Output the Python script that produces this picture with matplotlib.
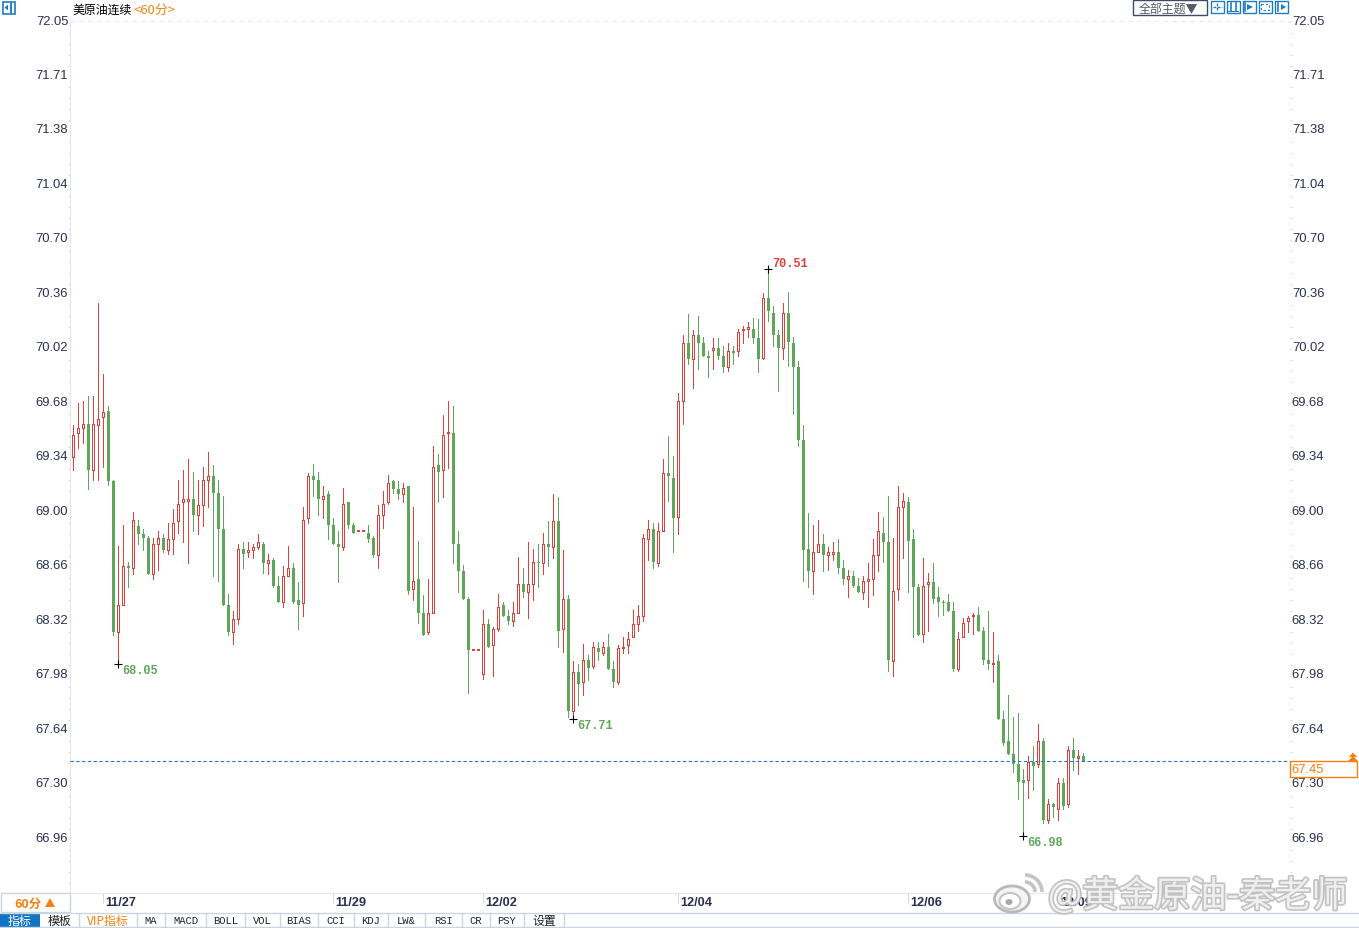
import matplotlib
matplotlib.use("Agg")
import matplotlib.pyplot as plt
import matplotlib.patheffects as pe
from matplotlib.patches import Rectangle, Ellipse, Arc, Polygon
from matplotlib.transforms import ScaledTranslation
import numpy as np

plt.rcParams['font.family'] = ['Liberation Sans', 'Noto Sans CJK SC', 'DejaVu Sans']
CJK = ['Noto Sans CJK SC', 'DejaVu Sans']

W, H = 1359, 929

# hourly candles
opens = [69.34,69.49,69.52,69.55,69.26,69.54,69.59,69.63,69.19,68.25,
         68.42,68.66,68.65,68.91,68.86,68.84,68.61,68.80,68.84,68.76,
         68.83,68.94,69.06,69.07,69.08,68.98,69.04,69.20,69.22,69.12,
         68.89,68.42,68.25,68.33,68.77,68.75,68.76,68.78,68.80,68.68,
         68.70,68.54,68.44,68.60,68.65,68.45,68.43,68.96,69.22,69.20,
         69.08,69.11,68.92,68.80,68.78,69.06,68.92,68.88,68.88,68.87,
         68.84,68.73,68.98,69.06,69.19,69.14,69.11,69.16,68.52,68.58,
         68.37,68.25,68.37,69.29,69.26,69.49,69.49,68.80,68.63,68.46,
         68.14,68.14,67.99,68.30,68.17,68.27,68.42,68.35,68.32,68.37,
         68.55,68.50,68.55,68.69,68.68,68.80,68.78,68.94,68.27,68.46,
         67.76,68.00,67.94,68.08,68.04,68.15,68.12,68.16,68.02,67.94,
         68.15,68.17,68.22,68.30,68.35,68.83,68.89,68.68,68.88,69.24,
         69.21,68.97,69.69,70.05,69.95,70.10,70.05,69.97,70.01,70.02,
         69.97,69.90,70.00,70.00,70.13,70.14,70.14,70.08,69.96,70.33,
         70.24,70.10,70.02,70.24,70.05,69.90,69.45,68.77,68.63,68.75,
         68.80,68.73,68.74,68.75,68.65,68.58,68.60,68.54,68.50,68.57,
         68.58,68.73,68.87,68.81,68.07,68.52,69.03,69.06,68.83,68.53,
         68.24,68.55,68.56,68.47,68.44,68.44,68.38,68.02,68.22,68.32,
         68.35,68.36,68.26,68.08,68.05,68.07,67.71,67.57,67.49,67.43,
         67.33,67.33,67.44,67.43,67.57,67.08,67.18,67.15,67.31,67.18,
         67.52,67.47,67.48]
closes = [69.48,69.52,69.55,69.26,69.55,69.58,69.62,69.19,68.25,68.42,
          68.66,68.65,68.95,68.86,68.84,68.61,68.80,68.84,68.76,68.83,
          68.93,69.05,69.08,69.08,68.98,69.04,69.20,69.22,69.12,68.89,
          68.42,68.25,68.33,68.77,68.74,68.76,68.78,68.81,68.68,68.70,
          68.54,68.44,68.60,68.65,68.44,68.42,68.95,69.22,69.20,69.08,
          69.10,68.92,68.80,68.78,69.05,68.92,68.87,68.88,68.88,68.83,
          68.73,68.98,69.05,69.18,69.14,69.11,69.15,68.51,68.57,68.37,
          68.23,68.37,69.28,69.25,69.48,69.49,68.80,68.63,68.46,68.14,
          68.14,68.14,68.30,68.16,68.27,68.41,68.35,68.32,68.37,68.55,
          68.50,68.55,68.69,68.68,68.80,68.78,68.94,68.26,68.46,67.76,
          68.00,67.93,68.08,68.03,68.16,68.13,68.16,68.02,67.94,68.15,
          68.16,68.21,68.30,68.35,68.84,68.89,68.69,68.88,69.24,69.22,
          68.96,69.69,70.05,69.95,70.10,70.05,69.97,69.96,70.02,69.97,
          69.90,70.00,69.99,70.12,70.14,70.15,70.08,69.95,70.33,70.25,
          70.10,70.02,70.24,70.06,69.90,69.45,68.76,68.63,68.75,68.80,
          68.73,68.75,68.75,68.65,68.58,68.60,68.54,68.50,68.57,68.58,
          68.73,68.88,68.81,68.08,68.51,69.03,69.07,68.82,68.53,68.23,
          68.54,68.56,68.46,68.44,68.43,68.38,68.02,68.21,68.31,68.34,
          68.36,68.26,68.08,68.05,68.06,67.71,67.56,67.49,67.43,67.32,
          67.31,67.44,67.42,67.57,67.08,67.18,67.16,67.31,67.17,67.52,
          67.47,67.48,67.45]
highs = [69.54,69.68,69.69,69.72,69.72,70.30,69.86,69.66,69.20,68.79,
         68.92,68.69,69.00,68.95,68.89,68.85,68.84,68.88,68.86,68.93,
         69.02,69.20,69.26,69.33,69.25,69.20,69.28,69.37,69.29,69.20,
         69.10,68.49,68.38,68.80,68.81,68.81,68.80,68.86,68.81,68.74,
         68.71,68.60,68.66,68.79,68.68,68.56,69.03,69.24,69.30,69.25,
         69.16,69.13,68.96,68.88,69.15,69.06,68.93,68.88,68.88,68.92,
         68.85,69.04,69.13,69.23,69.20,69.19,69.18,69.16,69.03,68.82,
         68.48,68.58,69.41,69.36,69.60,69.69,69.66,68.88,68.67,68.47,
         68.14,68.14,68.39,68.33,68.28,68.49,68.44,68.39,68.44,68.72,
         68.65,68.81,68.77,68.80,68.87,68.94,69.11,69.09,68.76,68.48,
         68.07,68.05,68.18,68.11,68.19,68.19,68.19,68.24,68.07,68.17,
         68.22,68.25,68.39,68.42,68.86,68.95,68.93,68.93,69.33,69.47,
         69.35,69.74,70.10,70.23,70.13,70.22,70.09,70.00,70.08,70.08,
         70.03,70.05,70.03,70.14,70.16,70.18,70.21,70.20,70.36,70.51,
         70.28,70.13,70.30,70.37,70.09,69.94,69.54,68.99,68.92,68.95,
         68.86,68.78,68.81,68.83,68.70,68.64,68.63,68.59,68.60,68.68,
         68.83,69.00,68.97,69.10,68.84,69.16,69.12,69.09,68.89,68.55,
         68.71,68.62,68.68,68.53,68.45,68.49,68.44,68.25,68.34,68.35,
         68.37,68.41,68.28,68.38,68.25,68.11,67.76,67.86,67.72,67.75,
         67.40,67.48,67.54,67.68,67.59,67.21,67.19,67.34,67.34,67.54,
         67.59,67.52,67.50]
lows = [69.26,69.40,69.43,69.14,69.20,69.20,69.28,69.17,68.23,68.05,
        68.42,68.53,68.61,68.80,68.76,68.61,68.58,68.64,68.75,68.74,
        68.74,68.87,68.81,68.68,68.88,68.86,68.91,69.03,68.60,68.57,
        68.42,68.23,68.18,68.30,68.65,68.72,68.71,68.77,68.62,68.61,
        68.53,68.44,68.41,68.60,68.43,68.27,68.35,68.93,69.10,68.98,
        68.96,68.83,68.80,68.56,68.76,68.90,68.87,68.88,68.88,68.81,
        68.72,68.65,68.90,69.05,69.12,69.08,69.06,68.49,68.45,68.31,
        68.23,68.24,68.37,69.06,69.09,69.27,68.68,68.50,68.46,67.87,
        68.14,68.14,67.96,68.16,67.98,68.26,68.35,68.30,68.29,68.37,
        68.47,68.34,68.45,68.53,68.61,68.66,68.71,68.16,68.13,67.72,
        67.71,67.80,67.86,67.95,68.03,68.08,68.11,68.02,67.91,67.93,
        68.12,68.12,68.22,68.26,68.32,68.70,68.65,68.66,68.88,69.07,
        68.75,68.86,69.55,69.92,69.77,69.89,69.97,69.84,69.89,69.95,
        69.87,69.88,69.92,69.97,70.05,70.09,70.05,69.87,69.95,70.19,
        70.03,69.75,69.95,69.91,69.61,69.41,68.57,68.53,68.49,68.75,
        68.63,68.64,68.70,68.62,68.55,68.47,68.53,68.50,68.46,68.41,
        68.48,68.63,68.69,68.01,67.98,68.45,68.71,68.50,68.22,68.23,
        68.19,68.26,68.43,68.35,68.36,68.38,68.01,68.01,68.22,68.25,
        68.24,68.26,68.05,68.02,67.94,67.71,67.55,67.49,67.38,67.21,
        66.98,67.22,67.27,67.41,67.06,67.06,67.10,67.08,67.15,67.16,
        67.39,67.37,67.45]

price_ticks = ["72.05", "71.71", "71.38", "71.04", "70.70", "70.36", "70.02", "69.68",
               "69.34", "69.00", "68.66", "68.32", "67.98", "67.64", "67.30", "66.96"]
date_idx = [6, 52, 82, 121, 167, 197]
date_labels = ["11/27", "11/29", "12/02", "12/04", "12/06", "12/09"]
extreme_idx = [9, 100, 139, 190]
extreme_val = [68.05, 67.71, 70.51, 66.98]
last_price = 67.45

tabs = ["指标", "模板", "VIP指标", "MA", "MACD", "BOLL", "VOL", "BIAS", "CCI", "KDJ",
        "LW&", "RSI", "CR", "PSY", "设置"]
tab_edges = [0, 40, 79, 137, 165, 206, 245, 280, 318, 354, 388, 425, 462, 490, 524, 564]

RED = "#e0403c"
GREEN = "#5fa55a"
NAVY = "#2b3050"
ORANGE = "#f5820f"
ICON = "#1f7cc4"
LINE = "#cbd5de"

opens = np.array(opens)
closes = np.array(closes)
highs = np.array(highs)
lows = np.array(lows)
x = np.arange(len(opens))
up = closes >= opens
flat = closes == opens

fig = plt.figure(figsize=(W / 100, H / 100), dpi=100, facecolor="white")

# price panel, pixel box 70..1290 x 23..894
ax = fig.add_axes([70 / W, 1 - 894 / H, 1220 / W, 871 / H])
ax.set_xlim((70 - 73.3) / 5, (1290 - 73.3) / 5)
ax.set_ylim(72.05 - 871 / 160.6, 72.05)

ax.vlines(x[up], lows[up], highs[up], color=RED, lw=0.7, zorder=2, antialiased=False)
ax.vlines(x[~up], lows[~up], highs[~up], color=GREEN, lw=0.7, zorder=2, antialiased=False)
ax.bar(x[up], (closes - opens)[up], bottom=opens[up], width=0.4, facecolor="white",
       edgecolor=RED, linewidth=0.7, zorder=3, antialiased=False)
ax.bar(x[~up], (closes - opens)[~up], bottom=opens[~up], width=0.6, facecolor=GREEN,
       edgecolor="none", linewidth=0, zorder=3, antialiased=False)
# open == close candles show as short thick dashes
ax.hlines(opens[flat], x[flat] - 0.3, x[flat] + 0.3, color=RED, lw=1.4, zorder=4)

ax.axhline(last_price, color="#1f78d8", lw=0.8, ls=(0, (3, 2.2)), zorder=4)

# high / low markers
ax.plot(x[extreme_idx], extreme_val, "+", color="black", ms=6, mew=0.8, zorder=5)
for i, v in zip(extreme_idx, extreme_val):
    c = RED if v > 70 else GREEN
    dy = 4.5 if v > 70 else -4.3
    ax.annotate(f"{v:.2f}", (i, v), xytext=(3, dy), textcoords="offset points", color=c,
                family="Liberation Mono", weight="bold", fontsize=8.6, va="center", zorder=6)

for s in ["top", "right"]:
    ax.spines[s].set_visible(False)
ax.spines["left"].set_color("#dfe6ee")
ax.spines["bottom"].set_color("#e4e8ec")

ticks = np.linspace(float(price_ticks[0]), float(price_ticks[-1]), len(price_ticks))
ax.set_yticks(ticks)
ax.set_yticklabels(price_ticks)
minor = 72.05 - np.arange(0, 80) * (72.05 - 66.96) / 75
ax.set_yticks(minor[minor > ax.get_ylim()[0]], minor=True)
ax.tick_params(axis="y", which="major", length=1, width=0.7, color="#c8c8c8", left=True, right=True,
               labelleft=True, labelright=True, labelsize=9.4, labelcolor=NAVY, pad=0.3, direction="out")
ax.tick_params(axis="y", which="minor", length=1.2, width=0.7, color="#d4d4d4", left=True, right=True)
shift = ScaledTranslation(0, 3 / 100, fig.dpi_scale_trans)
for lab in ax.get_yticklabels():
    lab.set_transform(lab.get_transform() + shift)

ax.set_xticks(date_idx)
ax.set_xticklabels(date_labels, ha="left", weight="bold")
ax.tick_params(axis="x", length=7, width=0.7, color="#cfd8e0", labelsize=9.2, labelcolor=NAVY, pad=-5)
shift_x = ScaledTranslation(1.5 / 100, 0, fig.dpi_scale_trans)
for lab in ax.get_xticklabels():
    lab.set_transform(lab.get_transform() + shift_x)

# pixel overlay for the terminal chrome
ov = fig.add_axes([0, 0, 1, 1], facecolor="none")
ov.set_xlim(0, W)
ov.set_ylim(H, 0)
ov.axis("off")

ov.plot([70, 1290], [21.5, 21.5], color="#e6e9ee", lw=0.8, ls=(0, (4, 4)))

# top left icon and title
ov.add_patch(Rectangle((2.5, 2.5), 12, 12, fc="white", ec=ICON, lw=1.2))
ov.plot([11, 11], [4.5, 12.5], color=ICON, lw=1.4)
ov.add_patch(Polygon([[4.5, 8.5], [8, 5.5], [8, 11.5]], fc=ICON, ec="none"))
ov.text(72, 10, "美原油连续", family=CJK, fontsize=8.6, color="black", va="center")
ov.text(133.5, 10, "<60分>", family=CJK, fontsize=9.4, color=ORANGE, va="center")

# top right buttons
ov.add_patch(Rectangle((1132.5, 1), 74, 15, fc="white", ec="#3f4a66", lw=1))
ov.text(1139, 9, "全部主题▼", family=CJK, fontsize=8.6, color="#555a66", va="center")
for bx in [1210, 1226, 1242, 1258, 1274]:
    ov.add_patch(Rectangle((bx + 0.5, 2), 13, 12, fc="white", ec=ICON, lw=1))
ov.plot([1217, 1217], [4, 12], color=ICON, lw=1, ls=(0, (2, 1)))
ov.plot([1212.5, 1221.5], [8, 8], color=ICON, lw=1, ls=(0, (2, 1)))
ov.plot([1231, 1231], [4, 12], color=ICON, lw=1.2)
ov.plot([1236, 1236], [4, 12], color=ICON, lw=1.2)
ov.plot([1228, 1238], [12, 12], color=ICON, lw=0.8)
ov.plot([1245, 1245], [4, 12], color=ICON, lw=1.2)
ov.add_patch(Polygon([[1247, 5], [1253, 8], [1247, 11]], fc=ICON, ec="none"))
ov.add_patch(Rectangle((1261, 5), 8, 6, fc="none", ec=ICON, lw=0.8, ls=(0, (2, 2))))
ov.plot([1278, 1278], [4, 12], color=ICON, lw=1.2)
ov.add_patch(Polygon([[1281, 5], [1286, 8], [1281, 11]], fc=ICON, ec="none"))

# last price box
ov.add_patch(Rectangle((1290, 762), 67, 16, fc="white", ec=ORANGE, lw=1, zorder=3))
ov.text(1291.5, 770.5, f"{last_price:.2f}", color=ORANGE, fontsize=9.4, va="center", zorder=4)
ov.add_patch(Polygon([[1348, 762], [1353, 757], [1358, 762]], fc=ORANGE, ec="none"))
ov.add_patch(Polygon([[1349, 758], [1353, 753.5], [1357, 758]], fc=ORANGE, ec="none"))

# bottom bar
ov.add_patch(Rectangle((0.5, 894), 69.5, 19, fc="white", ec=LINE, lw=1))
ov.text(14, 904, "60分", family=CJK, fontsize=9, weight="bold", color=ORANGE, va="center")
ov.add_patch(Polygon([[45, 908], [50, 899], [55, 908]], fc=ORANGE, ec="none"))
ov.plot([0, W], [913.5, 913.5], color=LINE, lw=1)
ov.plot([0, W], [928, 928], color=LINE, lw=1)
ov.add_patch(Rectangle((0, 914), tab_edges[1], 14, fc="#1374c4", ec="none"))
for i, t in enumerate(tabs):
    l, r = tab_edges[i], tab_edges[i + 1]
    if i > 0:
        ov.plot([r, r], [914, 928], color=LINE, lw=1)
    col = "white" if i == 0 else (ORANGE if i == 2 else "#222222")
    if t.isascii():
        ov.text((l + r) / 2, 921.5, t, family="Liberation Mono", fontsize=7.6, color=col,
                ha="center", va="center")
    else:
        ov.text((l + r) / 2, 921.5, t, family=CJK, fontsize=8.6, color=col, ha="center", va="center")

# weibo watermark
halo = [pe.withStroke(linewidth=2.4, foreground="#bdbdbd")]
ov.text(1048, 897, "@黄金原油-秦老师", family=CJK, fontsize=26, color="#f4f4f4", va="center",
        alpha=0.92, path_effects=halo, zorder=8)
ov.add_patch(Ellipse((1012, 900), 35, 26, fc="#f4f4f4", ec="#b9b9b9", lw=2, zorder=8))
ov.add_patch(Ellipse((1010, 902), 21, 16, fc="white", ec="#c4c4c4", lw=1.5, zorder=8))
ov.add_patch(Ellipse((1009, 903), 7, 6, fc="#a8a8a8", ec="none", zorder=8))
ov.add_patch(Arc((1025, 893), 20, 20, theta1=-90, theta2=0, ec="#c4c4c4", lw=2.6, zorder=8))
ov.add_patch(Arc((1025, 893), 34, 34, theta1=-90, theta2=0, ec="#c4c4c4", lw=2.6, zorder=8))

fig.savefig("out.png", dpi=100)
